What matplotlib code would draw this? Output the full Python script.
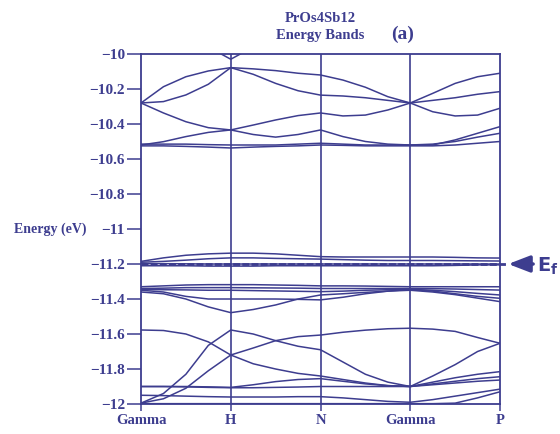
import numpy as np
import matplotlib.pyplot as plt
from matplotlib.ticker import FuncFormatter

# k-path : Gamma - H - N - Gamma - P, sampled every quarter of a segment
K = np.arange(0, 4.01, 0.25)
kpoint_pos = [0, 1, 2, 3, 4]
kpoint_labels = ["Gamma", "H", "N", "Gamma", "P"]
EF = -11.2
nan = np.nan

# upper group of bands (eV)
band_cup = [nan, nan, nan, -9.96, -10.03, -9.96, nan, nan, nan, nan, nan, nan, nan, nan, nan, nan, nan]
band_u1 = [-10.28, -10.187, -10.13, -10.097, -10.078, -10.085, -10.095, -10.11, -10.12,
           -10.149, -10.19, -10.244, -10.28, -10.225, -10.168, -10.13, -10.11]
band_u2 = [-10.28, -10.272, -10.234, -10.173, -10.078, -10.116, -10.168, -10.21, -10.235,
           -10.24, -10.25, -10.265, -10.28, -10.265, -10.25, -10.23, -10.215]
band_u3 = [-10.28, -10.337, -10.387, -10.421, -10.434, -10.406, -10.377, -10.352, -10.337,
           -10.354, -10.349, -10.32, -10.28, -10.33, -10.354, -10.349, -10.31]
band_u4 = [-10.52, -10.501, -10.472, -10.448, -10.434, -10.46, -10.475, -10.46, -10.434,
           -10.472, -10.50, -10.515, -10.52, -10.52, -10.491, -10.453, -10.415]
band_u5 = [-10.515, -10.515, -10.515, -10.518, -10.52, -10.52, -10.52, -10.515, -10.51,
           -10.515, -10.52, -10.52, -10.52, -10.515, -10.50, -10.475, -10.453]
band_u6 = [-10.525, -10.525, -10.528, -10.532, -10.537, -10.532, -10.528, -10.525, -10.52,
           -10.522, -10.525, -10.525, -10.525, -10.525, -10.52, -10.51, -10.50]

# bands around the Fermi level
band_m1 = [-11.185, -11.165, -11.15, -11.142, -11.138, -11.138, -11.142, -11.15, -11.158,
           -11.16, -11.16, -11.16, -11.16, -11.16, -11.162, -11.165, -11.166]
band_m2 = [-11.19, -11.185, -11.178, -11.17, -11.165, -11.165, -11.168, -11.17, -11.172,
           -11.175, -11.178, -11.18, -11.18, -11.18, -11.181, -11.182, -11.183]
band_m3 = [-11.198, -11.198, -11.199, -11.2, -11.2, -11.2, -11.2, -11.2, -11.2,
           -11.2, -11.2, -11.2, -11.2, -11.2, -11.2, -11.2, -11.2]
band_m4 = [-11.21, -11.21, -11.21, -11.212, -11.212, -11.212, -11.21, -11.21, -11.21,
           -11.21, -11.21, -11.21, -11.21, -11.21, -11.208, -11.205, -11.205]
band_m5 = [-11.33, -11.325, -11.32, -11.318, -11.318, -11.318, -11.32, -11.322, -11.325,
           -11.325, -11.326, -11.328, -11.33, -11.33, -11.33, -11.33, -11.33]
band_m6 = [-11.34, -11.338, -11.335, -11.335, -11.335, -11.336, -11.337, -11.338, -11.34,
           -11.34, -11.34, -11.34, -11.34, -11.341, -11.343, -11.346, -11.349]
band_m7 = [-11.345, -11.347, -11.348, -11.35, -11.35, -11.352, -11.354, -11.356, -11.358,
           -11.355, -11.35, -11.347, -11.345, -11.35, -11.358, -11.368, -11.377]
band_m8 = [-11.35, -11.36, -11.385, -11.40, -11.40, -11.40, -11.40, -11.402, -11.405,
           -11.39, -11.37, -11.355, -11.345, -11.355, -11.37, -11.385, -11.396]
band_m9 = [-11.36, -11.37, -11.40, -11.445, -11.478, -11.46, -11.434, -11.40, -11.377,
           -11.37, -11.362, -11.355, -11.35, -11.36, -11.375, -11.395, -11.415]

# lower group
band_l1 = [-11.577, -11.58, -11.60, -11.645, -11.72, -11.77, -11.80, -11.825, -11.84,
           -11.86, -11.88, -11.895, -11.90, -11.875, -11.85, -11.83, -11.815]
band_l2 = [-11.995, -11.94, -11.83, -11.665, -11.577, -11.60, -11.638, -11.67, -11.69,
           -11.76, -11.83, -11.875, -11.90, -11.84, -11.775, -11.70, -11.653]
band_l3 = [-11.995, -11.97, -11.91, -11.81, -11.72, -11.68, -11.638, -11.615, -11.606,
           -11.59, -11.578, -11.57, -11.567, -11.572, -11.585, -11.62, -11.653]
band_l4 = [-11.90, -11.90, -11.90, -11.902, -11.905, -11.89, -11.872, -11.86, -11.855,
           -11.87, -11.885, -11.895, -11.90, -11.89, -11.88, -11.87, -11.863]
band_l5 = [-11.90, -11.90, -11.902, -11.905, -11.907, -11.907, -11.905, -11.903, -11.90,
           -11.90, -11.90, -11.90, -11.90, -11.885, -11.87, -11.855, -11.844]
band_l6 = [-11.95, -11.952, -11.955, -11.958, -11.96, -11.96, -11.96, -11.958, -11.958,
           -11.965, -11.975, -11.985, -11.99, -11.975, -11.955, -11.935, -11.915]
band_l7 = [-11.998, -11.998, -11.998, -11.998, -11.998, -11.998, -11.998, -11.998, -11.998,
           -11.998, -11.998, -11.998, -11.998, -11.998, -11.995, -11.965, -11.93]

bands = [band_cup, band_u1, band_u2, band_u3, band_u4, band_u5, band_u6,
         band_m1, band_m2, band_m3, band_m4, band_m5, band_m6, band_m7, band_m8, band_m9,
         band_l1, band_l2, band_l3, band_l4, band_l5, band_l6, band_l7]

plt.rcParams['font.family'] = ['Liberation Serif', 'DejaVu Serif']
plt.rcParams['font.weight'] = 'bold'
INK = '#3d3d8f'

fig = plt.figure(figsize=(5.6, 4.34), dpi=100)
ax = fig.add_axes([0.2518, 0.0691, 0.6411, 0.8065])

for band in bands:
    ax.plot(K, band, color=INK, lw=1.1)

# high-symmetry verticals
for kp in kpoint_pos[1:-1]:
    ax.axvline(kp, color=INK, lw=1.2)

# Fermi level, running out to the arrow
ax.plot([0, 4.07], [EF, EF], color=INK, lw=2.0, ls=(0, (2.5, 0.8)), clip_on=False)
ax.annotate('', xy=(4.06, EF), xytext=(4.4, EF), xycoords='data',
            arrowprops=dict(arrowstyle='-|>,head_length=1.3,head_width=0.5',
                            color=INK, lw=2.5), annotation_clip=False)
fig.text(537 / 560, 1 - 266 / 434, r'$\mathbf{E_f}$', color=INK, fontsize=14,
         ha='left', va='center', family='DejaVu Sans')

ax.set_xlim(0, 4)
ax.set_ylim(-12, -10)
ax.set_xticks(kpoint_pos)
ax.set_xticklabels(kpoint_labels)
ax.set_yticks(np.arange(-12, -9.99, 0.2))
ax.yaxis.set_major_formatter(FuncFormatter(lambda v, p: f'{v:g}'.replace('-', '\u2212')))
ax.tick_params(direction='out', width=1.1, color=INK, labelcolor=INK)
ax.tick_params(axis='y', labelsize=11, length=10, pad=1.5)
ax.tick_params(axis='x', labelsize=10.5, length=5, pad=2.5)
for sp in ax.spines.values():
    sp.set_color(INK)
    sp.set_linewidth(1.3)

fig.text(86 / 560, 1 - 229 / 434, 'Energy (eV)', color=INK, fontsize=10,
         ha='right', va='center')
fig.text(320 / 560, 1 - 18 / 434, 'PrOs4Sb12', color=INK, fontsize=10.5,
         ha='center', va='center')
fig.text(320 / 560, 1 - 36 / 434, 'Energy Bands', color=INK, fontsize=10.5,
         ha='center', va='center')
fig.text(403 / 560, 1 - 34 / 434, '(a)', color=INK, fontsize=14,
         ha='center', va='center')

fig.savefig('out.png', dpi=100)
